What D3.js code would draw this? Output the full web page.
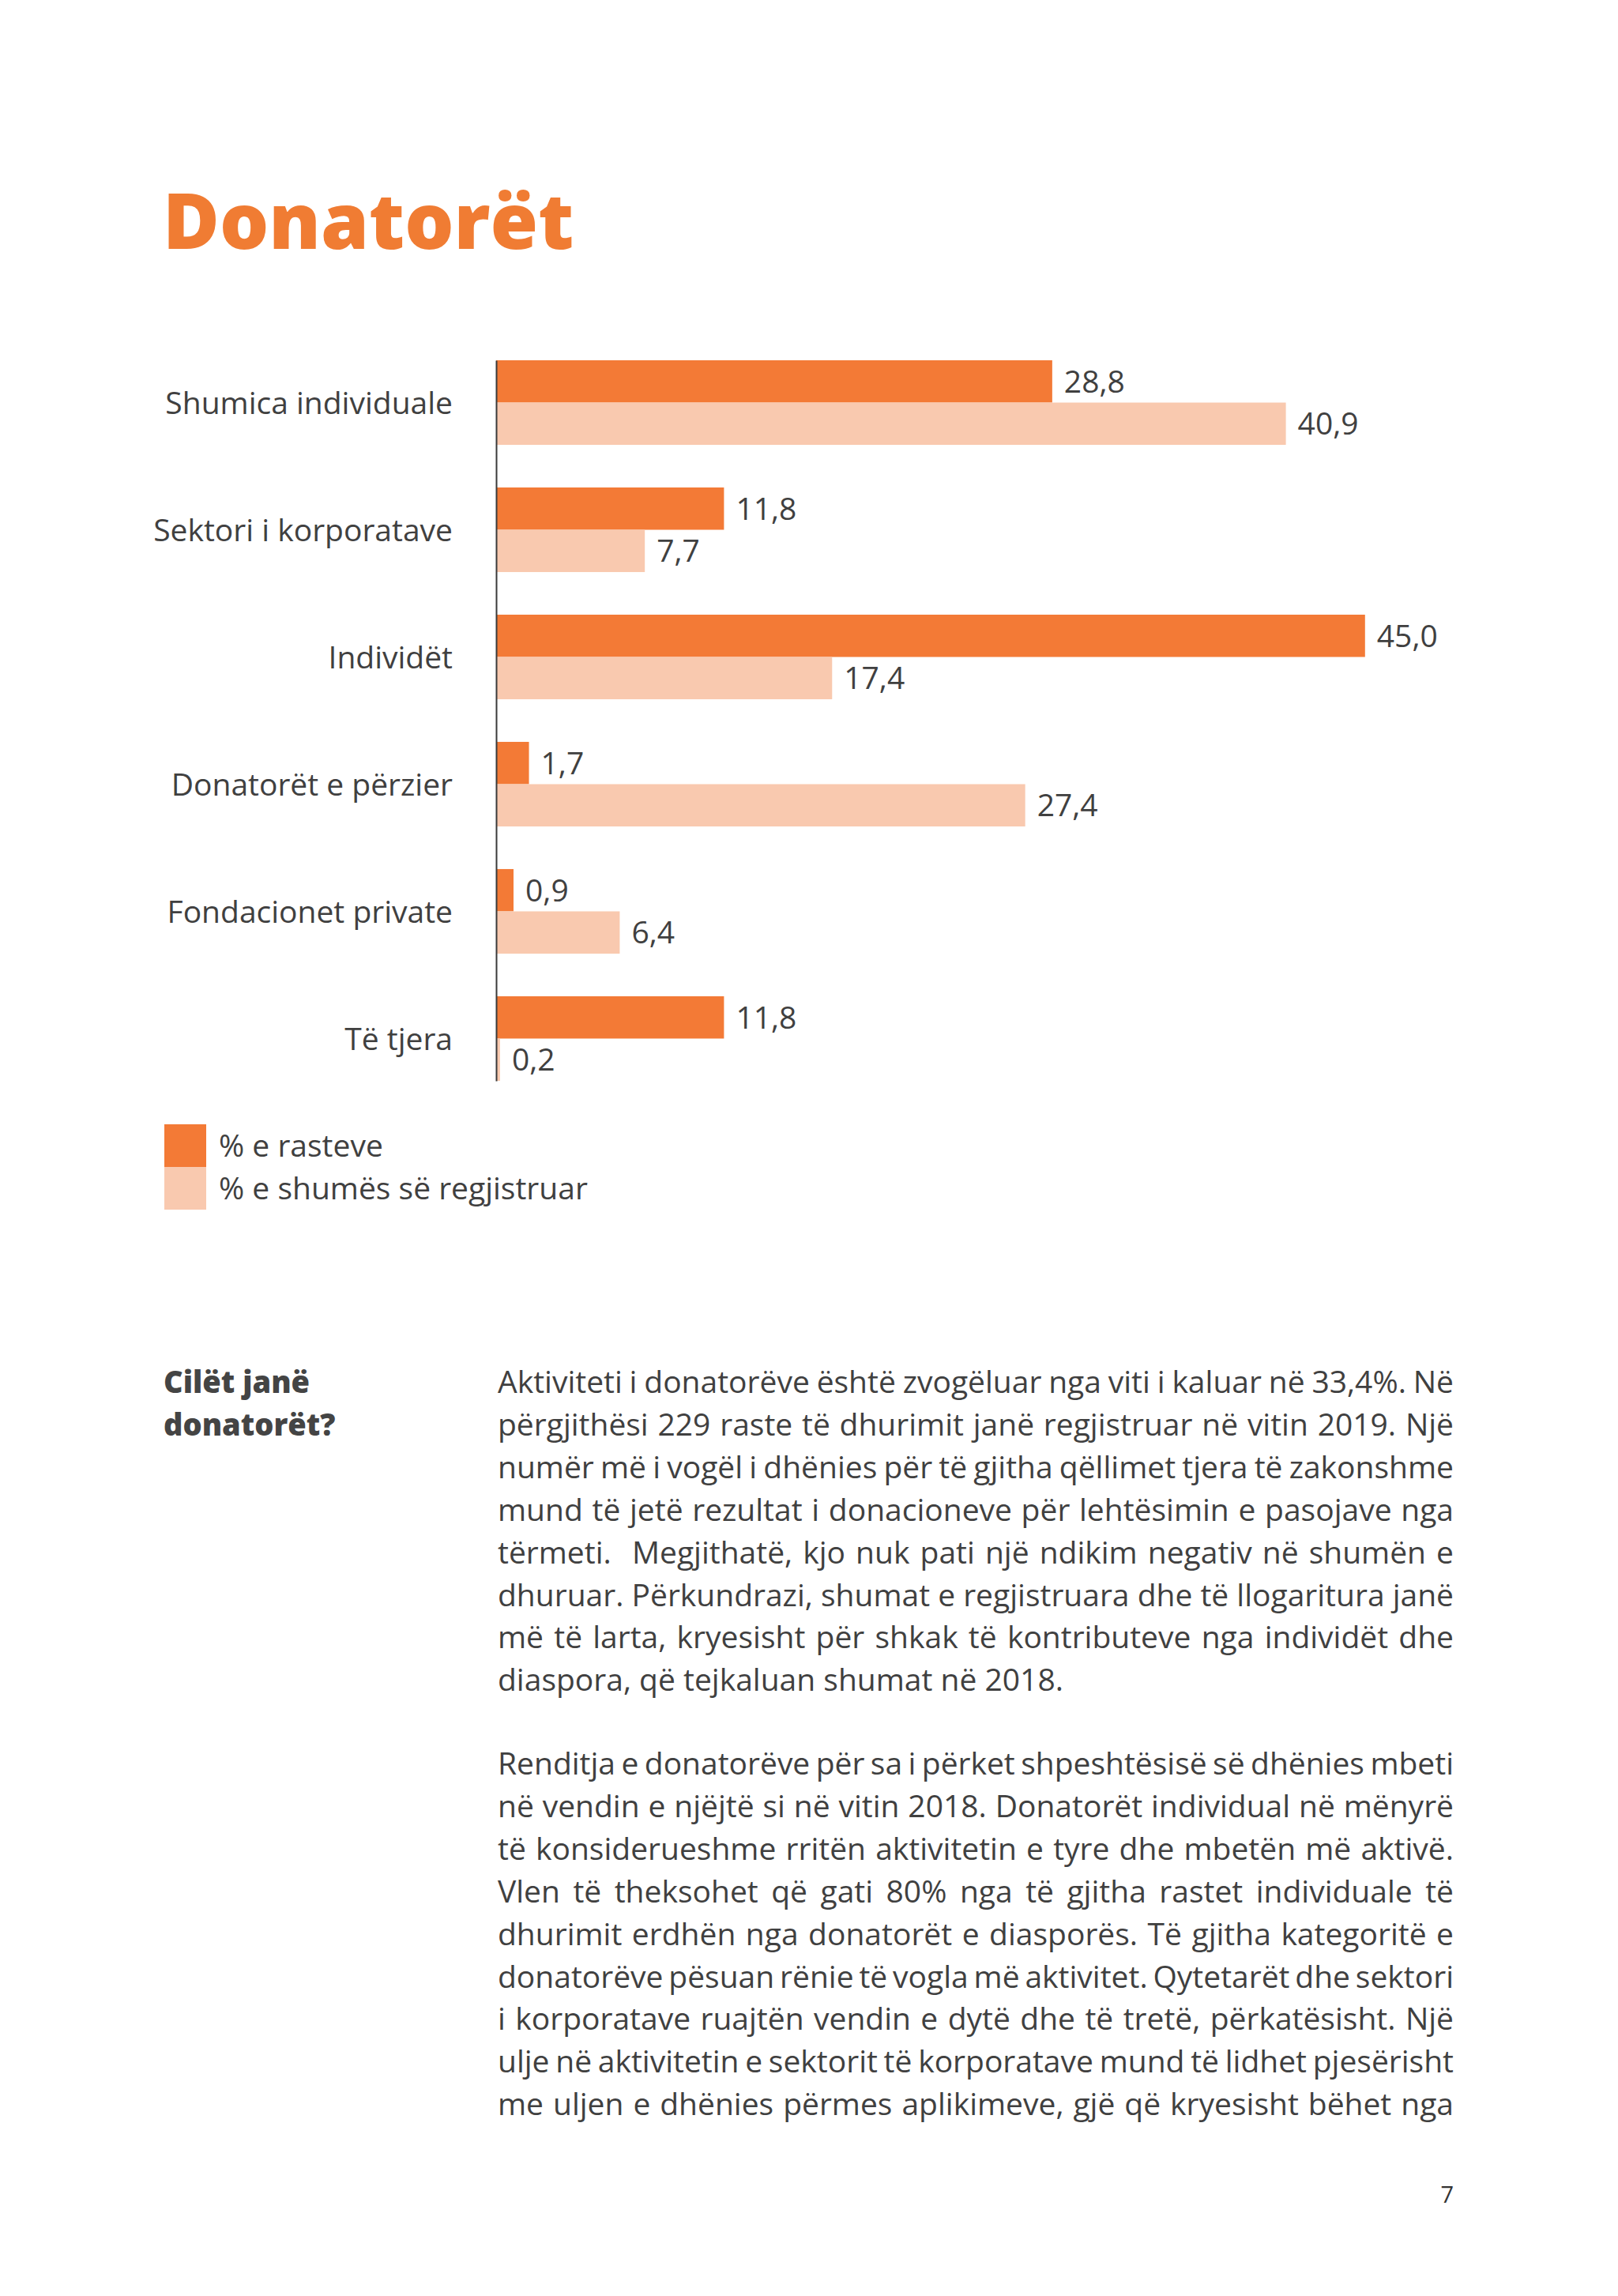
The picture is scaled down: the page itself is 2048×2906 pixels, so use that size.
<!DOCTYPE html>
<html>
<head>
<meta charset="utf-8">
<script src="https://cdn.jsdelivr.net/npm/d3@7"></script>
<style>
  body { margin: 0; background: #fff; }
  svg { display: block; font-family: "Open Sans", sans-serif; }
</style>
</head>
<body>
<div id="page"></div>
<script>
const categories = [
  'Shumica individuale',
  'Sektori i korporatave',
  'Individët',
  'Donatorët e përzier',
  'Fondacionet private',
  'Të tjera',
];
const rasteve = [28.8, 11.8, 45.0, 1.7, 0.9, 11.8];
const shumes = [40.9, 7.7, 17.4, 27.4, 6.4, 0.2];
const seriesNames = ['% e rasteve', '% e shumës së regjistruar'];
const seriesColors = ['#f37a36', '#f9c9af'];

const para1 = [
  'Aktiviteti i donatorëve është zvogëluar nga viti i kaluar në 33,4%. Në',
  'përgjithësi 229 raste të dhurimit janë regjistruar në vitin 2019. Një',
  'numër më i vogël i dhënies për të gjitha qëllimet tjera të zakonshme',
  'mund të jetë rezultat i donacioneve për lehtësimin e pasojave nga',
  'tërmeti.  Megjithatë, kjo nuk pati një ndikim negativ në shumën e',
  'dhuruar. Përkundrazi, shumat e regjistruara dhe të llogaritura janë',
  'më të larta, kryesisht për shkak të kontributeve nga individët dhe',
  'diaspora, që tejkaluan shumat në 2018.',
];
const para2 = [
  'Renditja e donatorëve për sa i përket shpeshtësisë së dhënies mbeti',
  'në vendin e njëjtë si në vitin 2018. Donatorët individual në mënyrë',
  'të konsiderueshme rritën aktivitetin e tyre dhe mbetën më aktivë.',
  'Vlen të theksohet që gati 80% nga të gjitha rastet individuale të',
  'dhurimit erdhën nga donatorët e diasporës. Të gjitha kategoritë e',
  'donatorëve pësuan rënie të vogla më aktivitet. Qytetarët dhe sektori',
  'i korporatave ruajtën vendin e dytë dhe të tretë, përkatësisht. Një',
  'ulje në aktivitetin e sektorit të korporatave mund të lidhet pjesërisht',
  'me uljen e dhënies përmes aplikimeve, gjë që kryesisht bëhet nga',
];

const width = 2048,
  height = 2906;
const textColor = '#404040';

const svg = d3
  .select('#page')
  .append('svg')
  .attr('width', width)
  .attr('height', height);

// title
svg
  .append('text')
  .attr('x', 206)
  .attr('y', 315)
  .attr('fill', '#f07c33')
  .style('font-size', '98px')
  .style('font-weight', 800)
  .text('Donatorët');

// scales
const x = d3.scaleLinear().domain([0, 45]).range([628, 628 + 45 * 24.44]);
const y = d3
  .scaleBand()
  .domain(categories)
  .range([456, 1368])
  .paddingInner(0.335)
  .paddingOuter(0);
const ySub = d3.scaleBand().domain([0, 1]).range([0, y.bandwidth()]);

const fmt = d3.formatLocale({ decimal: ',', thousands: '.', grouping: [3], currency: ['', ''] }).format('.1f');

const rows = categories.map((c, i) => ({ cat: c, vals: [rasteve[i], shumes[i]] }));

const groups = svg
  .append('g')
  .selectAll('g')
  .data(rows)
  .enter()
  .append('g')
  .attr('transform', d => 'translate(0,' + y(d.cat) + ')');

groups
  .selectAll('rect')
  .data(d => d.vals.map((v, k) => ({ v, k })))
  .enter()
  .append('rect')
  .attr('x', x(0))
  .attr('y', d => ySub(d.k))
  .attr('width', d => x(d.v) - x(0))
  .attr('height', ySub.bandwidth())
  .attr('fill', d => seriesColors[d.k]);

groups
  .selectAll('text')
  .data(d => d.vals.map((v, k) => ({ v, k })))
  .enter()
  .append('text')
  .attr('x', d => x(d.v) + 15)
  .attr('y', d => ySub(d.k) + ySub.bandwidth() / 2)
  .attr('dy', '0.36em')
  .attr('fill', textColor)
  .style('font-size', '39px')
  .text(d => fmt(d.v));

// axis
const axis = svg
  .append('g')
  .attr('transform', 'translate(' + x(0) + ',0)')
  .call(d3.axisLeft(y).tickSize(0).tickSizeOuter(0).tickPadding(55));
axis.select('.domain').attr('stroke', '#3a3a3a').attr('stroke-width', 2);
axis
  .selectAll('text')
  .attr('fill', textColor)
  .attr('dy', '0.36em')
  .style('font-size', '39px')
  .style('font-family', '"Open Sans", sans-serif');

// legend
const legend = svg
  .append('g')
  .selectAll('g')
  .data(seriesNames)
  .enter()
  .append('g')
  .attr('transform', (d, i) => 'translate(208,' + (1423 + i * 54) + ')');
legend
  .append('rect')
  .attr('width', 53)
  .attr('height', 54)
  .attr('fill', (d, i) => seriesColors[i]);
legend
  .append('text')
  .attr('x', 69)
  .attr('y', 27)
  .attr('dy', '0.36em')
  .attr('fill', textColor)
  .style('font-size', '39px')
  .text(d => d);

// side heading
svg
  .append('text')
  .attr('fill', '#444')
  .style('font-size', '38px')
  .style('font-weight', 800)
  .selectAll('tspan')
  .data(['Cilët janë', 'donatorët?'])
  .enter()
  .append('tspan')
  .attr('x', 207)
  .attr('y', (d, i) => 1763 + i * 54)
  .text(d => d);

// justified body text
function paragraph(lines, top, justifyLast) {
  const g = svg.append('g');
  lines.forEach((line, i) => {
    const t = g
      .append('text')
      .attr('x', 630)
      .attr('y', top + i * 53.9)
      .attr('fill', textColor)
      .style('font-size', '39px')
      .style('white-space', 'pre')
      .text(line);
    if (i < lines.length - 1 || justifyLast) {
      const w = t.node().getComputedTextLength();
      const spaces = line.split(' ').length - 1;
      t.style('word-spacing', (1210 - w) / spaces + 'px');
    }
  });
}
paragraph(para1, 1763, false);
paragraph(para2, 2246, true);

// page number
svg
  .append('text')
  .attr('x', 1840)
  .attr('y', 2788)
  .attr('text-anchor', 'end')
  .attr('fill', '#333')
  .style('font-size', '29px')
  .text('7');
</script>
</body>
</html>
